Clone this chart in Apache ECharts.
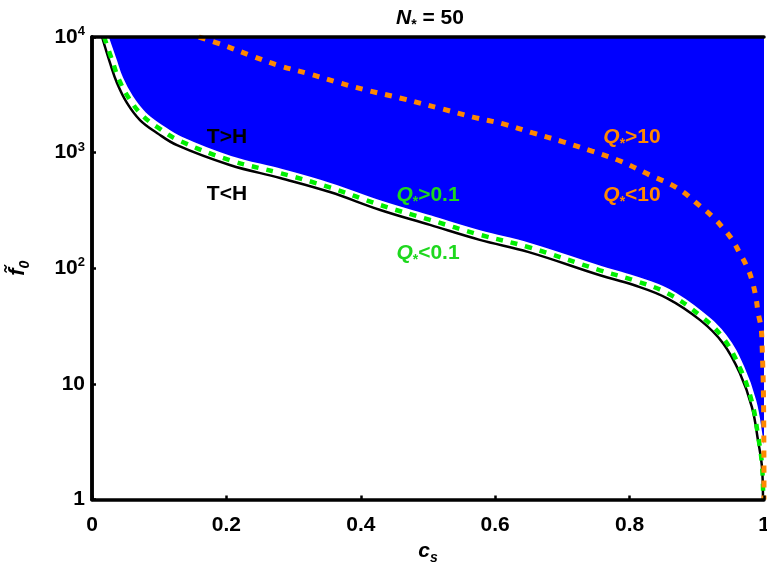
<!DOCTYPE html>
<html>
<head>
<meta charset="utf-8">
<script src="https://cdn.jsdelivr.net/npm/echarts@6/dist/echarts.min.js"></script>
<style>
html,body{margin:0;padding:0;background:#fff;}
#chart{width:767px;height:575px;}
</style>
</head>
<body>
<div id="chart"></div>
<script>
// ---- data ----
const xTickLabels = ['0', '0.2', '0.4', '0.6', '0.8', '1'];
const yTickLabels = ['1', '10', '10^2', '10^3', '10^4'];

// T = H boundary (black solid)
const blackC = [0.015, 0.0268, 0.0372, 0.052, 0.0714, 0.0967, 0.1265, 0.205, 0.28, 0.354, 0.429, 0.503, 0.577, 0.65, 0.756, 0.805, 0.856, 0.905, 0.939, 0.964, 0.982, 0.991, 0.997, 0.9985];
const blackF = [10000, 5960, 4000, 2690, 1910, 1480, 1160, 782, 603, 456, 319, 237, 176, 138, 87, 72, 55, 35.6, 22.5, 12.4, 6.3, 3.27, 1.9, 1.0];

// Q* = 0.1 boundary (green dashed)
const greenC = [0.018, 0.03, 0.04, 0.055, 0.075, 0.1, 0.13, 0.205, 0.28, 0.354, 0.429, 0.503, 0.577, 0.65, 0.756, 0.805, 0.856, 0.905, 0.939, 0.964, 0.982, 0.991, 0.997, 0.9988];
const greenF = [10000, 6300, 4300, 2950, 2100, 1620, 1270, 860, 665, 500, 352, 262, 195, 152, 96, 79, 61, 39, 25, 13.8, 7, 3.6, 2.0, 1.0];

// Q* = 10 boundary (orange dotted)
const orangeC = [0.159, 0.195, 0.238, 0.280, 0.324, 0.369, 0.414, 0.458, 0.522, 0.567, 0.612, 0.656, 0.701, 0.744, 0.786, 0.830, 0.871, 0.905, 0.924, 0.939, 0.952, 0.964, 0.975, 0.982, 0.988, 0.991, 0.9955, 0.997, 0.9993, 1.0];
const orangeF = [10000, 8530, 6850, 5620, 4790, 4000, 3410, 2970, 2380, 2030, 1770, 1480, 1240, 1030, 846, 640, 494, 345, 277, 223, 179, 135, 102, 79, 56, 42, 31, 23, 7.2, 1];

// region filled (T>H) : bounded by green curve, closed at c = 1
const fillEndC = [1.0];
const fillEndF = [1];

// ---- build ----
const zip = (a, b) => a.map((v, i) => [v, b[i]]);
const blackData = zip(blackC, blackF);
const greenData = zip(greenC, greenF);
const orangeData = zip(orangeC, orangeF);
const fillData = greenData.concat(zip(fillEndC, fillEndF));

const FONT = 'Liberation Sans, Arial, sans-serif';
const BLUE = '#0000ff';
const GREEN = '#00ee00';
const GREEN_TXT = '#1ed81e';
const ORANGE = '#ff8800';

// rich styles for echarts components (use color)
const subRich = (color, size) => ({
  b: {fontFamily: FONT, fontWeight: 'bold', fontSize: size, color: color, lineHeight: 28, verticalAlign: 'middle'},
  i: {fontFamily: FONT, fontWeight: 'bold', fontStyle: 'italic', fontSize: size, color: color, lineHeight: 28, verticalAlign: 'middle'},
  s: {fontFamily: FONT, fontWeight: 'bold', fontStyle: 'italic', fontSize: 14, color: color, lineHeight: 14, verticalAlign: 'bottom'}
});
// rich styles for zrender graphic texts (use fill)
const gRich = (color, size) => ({
  b: {fontFamily: FONT, fontWeight: 'bold', fontSize: size, fill: color, lineHeight: 28, verticalAlign: 'middle'},
  i: {fontFamily: FONT, fontWeight: 'bold', fontStyle: 'italic', fontSize: size, fill: color, lineHeight: 28, verticalAlign: 'middle'},
  s: {fontFamily: FONT, fontWeight: 'bold', fontSize: 14, fill: color, lineHeight: 14, verticalAlign: 'bottom'}
});

function yLabel(v) {
  const e = Math.round(Math.log10(v));
  const t = yTickLabels[e];
  if (t.indexOf('^') < 0) return '{b|' + t + '}';
  const p = t.split('^');
  return '{b|' + p[0] + '}{p|' + p[1] + '}';
}

const chart = echarts.init(document.getElementById('chart'), null, {renderer: 'canvas'});

const axisLineStyle = {lineStyle: {color: '#000', width: 3.5}};

const option = {
  animation: false,
  backgroundColor: '#fff',
  grid: {left: 92, right: 3, top: 37, bottom: 75.5, containLabel: false, outerBoundsMode: 'none'},
  xAxis: [{
    type: 'value', min: 0, max: 1, interval: 0.2, position: 'bottom', z: 10,
    axisLine: axisLineStyle,
    axisTick: {show: true, inside: true, length: 4, lineStyle: {color: '#000', width: 2.5}},
    splitLine: {show: false},
    axisLabel: {
      margin: 15,
      formatter: (v, i) => '{b|' + xTickLabels[i] + '}',
      rich: {b: {fontFamily: FONT, fontWeight: 'bold', fontSize: 21, color: '#000'}}
    },
    name: '{i|c}{s|s}',
    nameLocation: 'middle', nameGap: 38,
    nameTextStyle: {rich: subRich('#000', 21)}
  }, {
    type: 'value', min: 0, max: 1, position: 'top', z: 10,
    axisLine: axisLineStyle, axisTick: {show: false}, axisLabel: {show: false}, splitLine: {show: false}
  }],
  yAxis: [{
    type: 'log', logBase: 10, min: 1, max: 10000, position: 'left', z: 10,
    axisLine: axisLineStyle,
    axisTick: {show: true, inside: true, length: 4, lineStyle: {color: '#000', width: 2.5}},
    minorTick: {show: false},
    splitLine: {show: false},
    axisLabel: {
      margin: 7,
      formatter: yLabel,
      rich: {
        b: {fontFamily: FONT, fontWeight: 'bold', fontSize: 21, color: '#000', lineHeight: 24},
        p: {fontFamily: FONT, fontWeight: 'bold', fontSize: 13, color: '#000', lineHeight: 13, verticalAlign: 'top'}
      }
    },
    name: '{i|f\u0303}{s|0}',
    nameLocation: 'middle', nameGap: 60, nameRotate: 90,
    nameTextStyle: {rich: subRich('#000', 22)}
  }, {
    type: 'log', logBase: 10, min: 1, max: 10000, position: 'right', z: 10,
    axisLine: axisLineStyle, axisTick: {show: false}, axisLabel: {show: false}, splitLine: {show: false}
  }],
  series: [
    {
      name: 'T>H region', type: 'line', data: fillData, xAxisIndex: 0, yAxisIndex: 0,
      showSymbol: false, symbol: 'none', smooth: 0.4,
      lineStyle: {width: 0, color: BLUE},
      areaStyle: {color: BLUE, opacity: 1, origin: 'end'},
      silent: true, z: 1
    },
    {
      name: 'gap', type: 'line', data: greenData, xAxisIndex: 0, yAxisIndex: 0,
      showSymbol: false, symbol: 'none', smooth: 0.4,
      lineStyle: {width: 9, color: '#fff'}, silent: true, z: 2
    },
    {
      name: 'T=H', type: 'line', data: blackData, xAxisIndex: 0, yAxisIndex: 0,
      showSymbol: false, symbol: 'none', smooth: 0.4,
      lineStyle: {width: 2.5, color: '#000'}, silent: true, z: 3
    },
    {
      name: 'Q*=0.1', type: 'line', data: greenData, xAxisIndex: 0, yAxisIndex: 0,
      showSymbol: false, symbol: 'none', smooth: 0.4,
      lineStyle: {width: 4.5, color: GREEN, type: [7, 8], cap: 'butt'}, silent: true, z: 4
    },
    {
      name: 'Q*=10', type: 'line', data: orangeData, xAxisIndex: 0, yAxisIndex: 0,
      showSymbol: false, symbol: 'none', smooth: 0.4,
      lineStyle: {width: 5, color: ORANGE, type: [7, 8], cap: 'butt'}, silent: true, z: 5
    }
  ],
  graphic: [
    {type: 'text', x: 430, y: 18, z: 20, style: {text: '{i|N}{s|*}{b| = 50}', align: 'center', verticalAlign: 'middle', rich: gRich('#000', 21)}},
    {type: 'text', x: 227, y: 137, z: 20, style: {text: 'T>H', align: 'center', verticalAlign: 'middle', font: 'bold 21px ' + FONT, fill: '#000'}},
    {type: 'text', x: 227, y: 194, z: 20, style: {text: 'T<H', align: 'center', verticalAlign: 'middle', font: 'bold 21px ' + FONT, fill: '#000'}},
    {type: 'text', x: 428, y: 195, z: 20, style: {text: '{i|Q}{s|*}{b|>0.1}', align: 'center', verticalAlign: 'middle', rich: gRich(GREEN_TXT, 21)}},
    {type: 'text', x: 428, y: 253, z: 20, style: {text: '{i|Q}{s|*}{b|<0.1}', align: 'center', verticalAlign: 'middle', rich: gRich(GREEN_TXT, 21)}},
    {type: 'text', x: 632, y: 137, z: 20, style: {text: '{i|Q}{s|*}{b|>10}', align: 'center', verticalAlign: 'middle', rich: gRich(ORANGE, 21)}},
    {type: 'text', x: 632, y: 195, z: 20, style: {text: '{i|Q}{s|*}{b|<10}', align: 'center', verticalAlign: 'middle', rich: gRich(ORANGE, 21)}}
  ]
};
chart.setOption(option);
</script>
</body>
</html>
